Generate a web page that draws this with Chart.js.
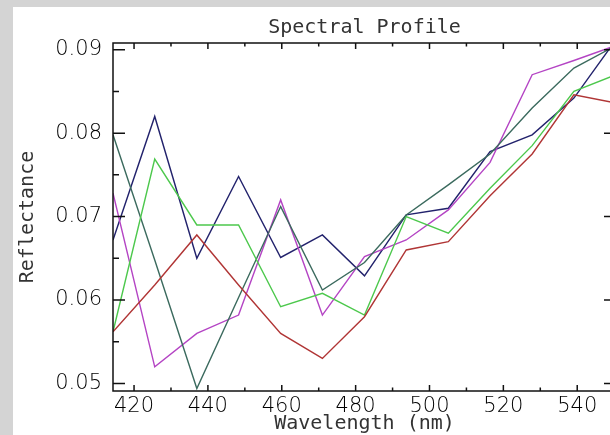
<!DOCTYPE html>
<html>
<head>
<meta charset="utf-8">
<script src="https://cdn.jsdelivr.net/npm/chart.js@4.4.1/dist/chart.umd.min.js"></script>
<style>
  html, body { margin: 0; padding: 0; width: 610px; height: 435px; overflow: hidden; background: #d4d4d4; }
  #wrap { position: absolute; left: 13px; top: 7px; width: 610px; height: 428px; background: #fff; }
</style>
</head>
<body>
<div id="wrap"><canvas id="spectral" width="610" height="428"></canvas></div>
<script>
// wavelengths (nm) of the sampled bands
var wavelengths = [414.3, 425.6, 437.0, 448.3, 459.7, 471.0, 482.4, 493.7, 505.1, 516.4, 527.8, 539.1, 550.5];

// reflectance of each pixel profile
var navy    = [0.0672, 0.0820, 0.0650, 0.0748, 0.0651, 0.0678, 0.0629, 0.0702, 0.0710, 0.0778, 0.0798, 0.0842, 0.0912];
var green   = [0.0562, 0.0769, 0.0690, 0.0690, 0.0592, 0.0608, 0.0582, 0.0700, 0.0680, 0.0734, 0.0785, 0.0850, 0.0870];
var magenta = [0.0728, 0.0520, 0.0560, 0.0582, 0.0720, 0.0582, 0.0652, 0.0672, 0.0708, 0.0765, 0.0870, 0.0887, 0.0905];
var red     = [0.0562, 0.0618, 0.0678, 0.0618, 0.0560, 0.0530, 0.0580, 0.0660, 0.0670, 0.0725, 0.0775, 0.0846, 0.0836];
var teal    = [0.0798, 0.0648, 0.0494, 0.0603, 0.0712, 0.0612, 0.0645, 0.0702, 0.0738, 0.0775, 0.0830, 0.0878, 0.0905];

// axis ticks
var xMajor = [420, 440, 460, 480, 500, 520, 540];
var xMinor = [430, 450, 470, 490, 510, 530, 550];
var yMajor = [0.05, 0.06, 0.07, 0.08, 0.09];
var yMinor = [0.055, 0.065, 0.075, 0.085];

function series(values, color) {
    return {
        data: values.map(function (v, i) { return { x: wavelengths[i], y: v }; }),
        borderColor: color,
        borderWidth: 1.4,
        pointRadius: 0,
        tension: 0,
        fill: false
    };
}

// IDL style box with inward ticks on all four sides
var frameTicks = {
    id: 'frameTicks',
    afterDatasetsDraw: function (chart) {
        var ctx = chart.ctx, a = chart.chartArea;
        var x = chart.scales.x, y = chart.scales.y;
        ctx.save();
        ctx.strokeStyle = '#111';
        ctx.lineWidth = 1.5;
        ctx.strokeRect(a.left, a.top, a.right - a.left, a.bottom - a.top);
        ctx.beginPath();
        function xt(list, len) {
            list.forEach(function (v) {
                var px = x.getPixelForValue(v);
                ctx.moveTo(px, a.bottom); ctx.lineTo(px, a.bottom - len);
                ctx.moveTo(px, a.top); ctx.lineTo(px, a.top + len);
            });
        }
        function yt(list, len) {
            list.forEach(function (v) {
                var py = y.getPixelForValue(v);
                ctx.moveTo(a.left, py); ctx.lineTo(a.left + len, py);
                ctx.moveTo(a.right, py); ctx.lineTo(a.right - len, py);
            });
        }
        xt(xMajor, 6);
        xt(xMinor, 3.5);
        yt(yMajor, 12);
        yt(yMinor, 6);
        ctx.stroke();
        ctx.restore();
    }
};

var tickFont = { family: 'DejaVu Sans', size: 21, weight: 300 };
var labelFont = { family: 'DejaVu Sans Mono', size: 20, weight: 'normal' };
var textColor = '#333';

new Chart(document.getElementById('spectral'), {
    type: 'line',
    data: {
        datasets: [
            series(red, '#b03535'),
            series(green, '#4cc84c'),
            series(teal, '#3b6a5e'),
            series(magenta, '#b444c4'),
            series(navy, '#22226c')
        ]
    },
    options: {
        responsive: false,
        animation: false,
        devicePixelRatio: 1,
        layout: { padding: { left: 0, right: 7, top: 0, bottom: 0 } },
        plugins: {
            legend: { display: false },
            tooltip: { enabled: false },
            title: {
                display: true,
                text: 'Spectral Profile',
                color: textColor,
                font: labelFont,
                fullSize: false,
                padding: { top: 9, bottom: 3 }
            }
        },
        scales: {
            x: {
                type: 'linear',
                min: 414.3,
                max: 550.5,
                grid: { display: false, drawTicks: false },
                border: { display: false },
                afterBuildTicks: function (s) { s.ticks = xMajor.map(function (v) { return { value: v }; }); },
                afterFit: function (s) { s.height = 44; },
                ticks: {
                    color: '#000',
                    font: tickFont,
                    padding: 3,
                    maxRotation: 0,
                    callback: function (v) { return String(v); }
                },
                title: {
                    display: true,
                    text: 'Wavelength (nm)',
                    color: textColor,
                    font: labelFont,
                    padding: { top: 0, bottom: -1 }
                }
            },
            y: {
                min: 0.0491,
                max: 0.0908,
                grid: { display: false, drawTicks: false },
                border: { display: false },
                afterBuildTicks: function (s) { s.ticks = yMajor.map(function (v) { return { value: v }; }); },
                afterFit: function (s) { s.width = 100; },
                ticks: {
                    color: '#000',
                    font: tickFont,
                    padding: 11,
                    callback: function (v) { return v.toFixed(2); }
                },
                title: {
                    display: true,
                    text: 'Reflectance',
                    color: textColor,
                    font: labelFont,
                    padding: { top: 3, bottom: 0 }
                }
            }
        }
    },
    plugins: [frameTicks]
});
</script>
</body>
</html>
